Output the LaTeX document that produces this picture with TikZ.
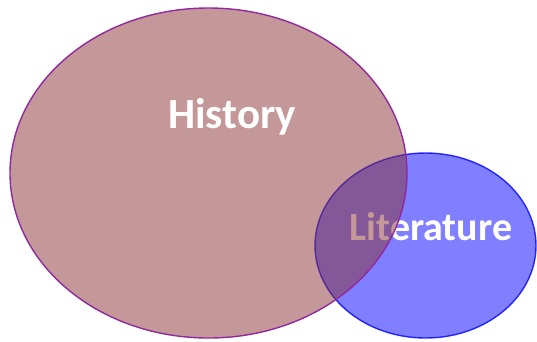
\documentclass[tikz,border=0pt]{standalone}
\usepackage{fontspec}
\setmainfont{Carlito}
\usetikzlibrary{shapes.geometric}
\definecolor{histfill}{RGB}{138,50,50}
\definecolor{histline}{RGB}{145,40,160}
\tikzset{set/.style={ellipse,inner sep=0pt,line width=1.4pt},
         label/.style={text=white,font=\bfseries\fontsize{40}{48}\selectfont}}
\begin{document}
\begin{tikzpicture}[x=1pt,y=-1pt]
                \useasboundingbox (0,0) rectangle (537,341);
                % the two sets
                \node[set,draw=blue,fill=blue,fill opacity=0.5,draw opacity=0.8,
                    minimum width=221pt,minimum height=185pt] (lit) at (425.5,245.5) {};
                \node[label] (littext) at (431,227) {Literature};
                \node[set,draw=histline,fill=histfill,fill opacity=0.5,
                    minimum width=397pt,minimum height=330pt] (hist) at (208.5,173) {};
                \node[label,font=\bfseries\fontsize{43}{50}\selectfont] (histtext) at (232,117) {History};
            \end{tikzpicture}
\end{document}
